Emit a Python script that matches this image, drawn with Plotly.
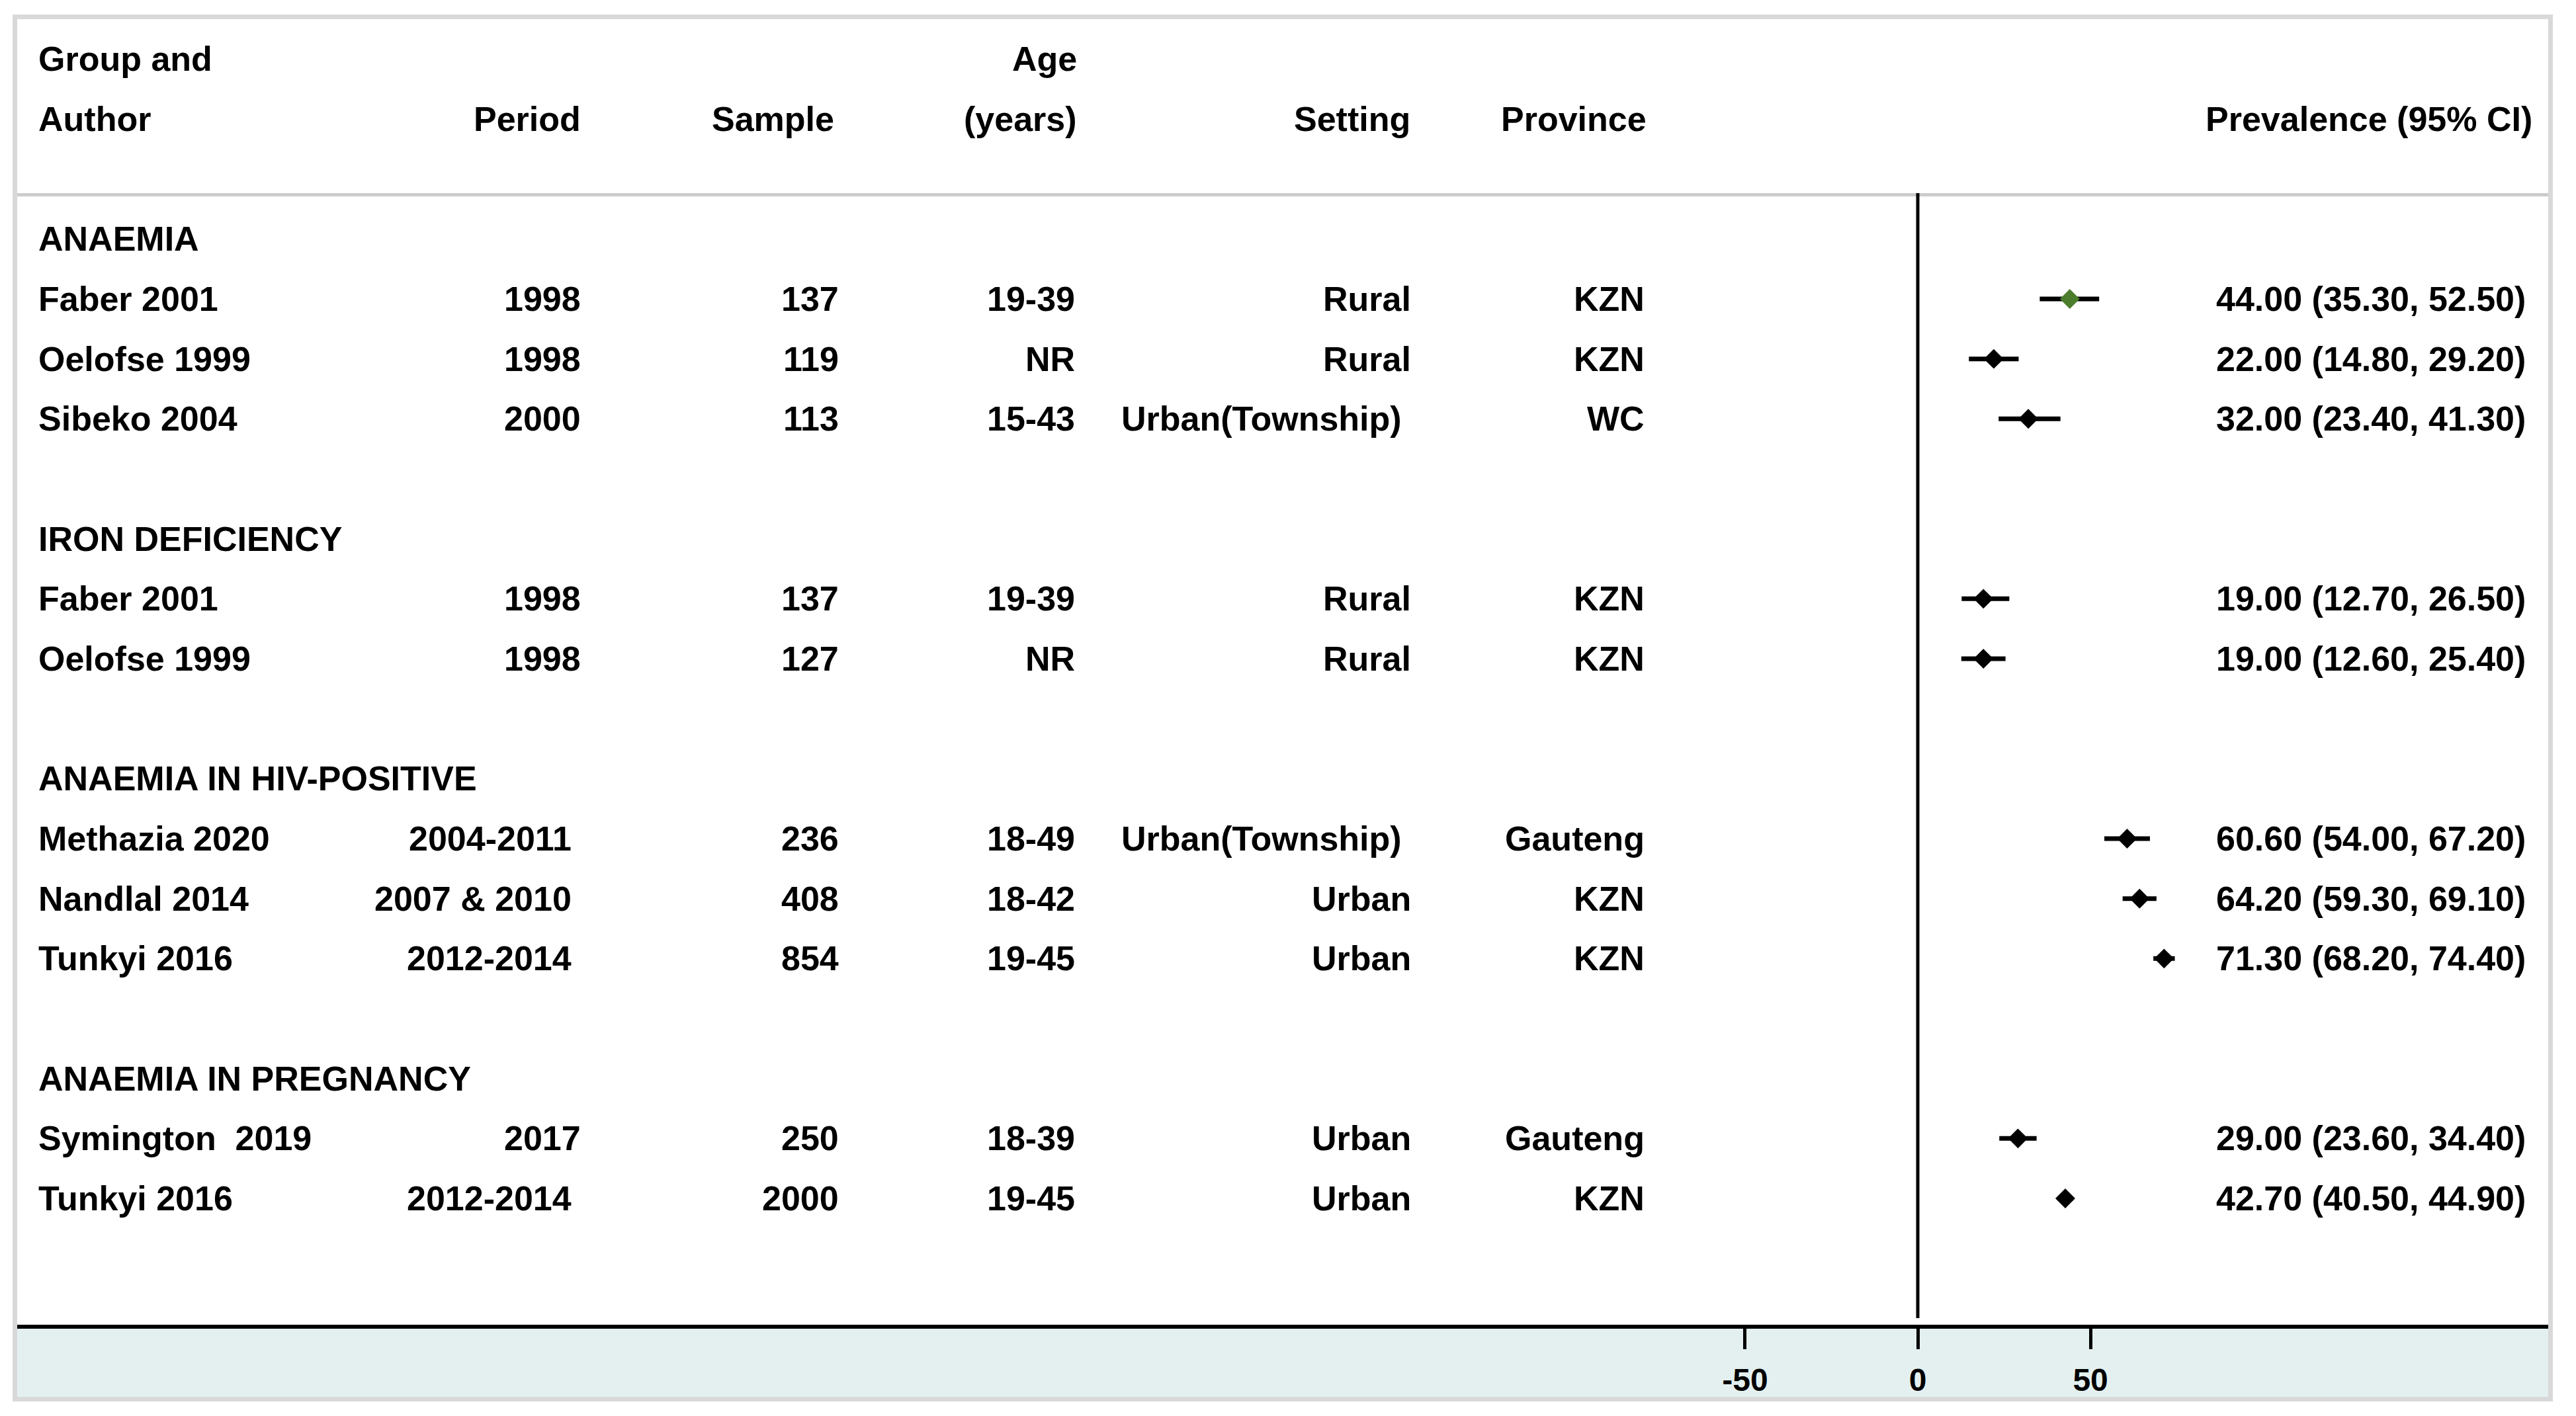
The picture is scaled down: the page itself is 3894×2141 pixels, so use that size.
import plotly.graph_objects as go

# ---------------- data ----------------
groups = ["ANAEMIA", "IRON DEFICIENCY", "ANAEMIA IN HIV-POSITIVE", "ANAEMIA IN PREGNANCY"]
study_group = [0, 0, 0, 1, 1, 2, 2, 2, 3, 3]
authors = ["Faber 2001", "Oelofse 1999", "Sibeko 2004",
           "Faber 2001", "Oelofse 1999",
           "Methazia 2020", "Nandlal 2014", "Tunkyi 2016",
           "Symington\u00a0\u00a02019", "Tunkyi 2016"]
periods = ["1998", "1998", "2000",
           "1998", "1998",
           "2004-2011\u00a0", "2007 & 2010\u00a0", "2012-2014\u00a0",
           "2017", "2012-2014\u00a0"]
samples = ["137", "119", "113", "137", "127", "236", "408", "854", "250", "2000"]
ages = ["19-39", "NR", "15-43", "19-39", "NR", "18-49", "18-42", "19-45", "18-39", "19-45"]
settings = ["Rural", "Rural", "Urban(Township)\u00a0", "Rural", "Rural",
            "Urban(Township)\u00a0", "Urban", "Urban", "Urban", "Urban"]
provinces = ["KZN", "KZN", "WC", "KZN", "KZN", "Gauteng", "KZN", "KZN", "Gauteng", "KZN"]
est = [44.00, 22.00, 32.00, 19.00, 19.00, 60.60, 64.20, 71.30, 29.00, 42.70]
lo = [35.30, 14.80, 23.40, 12.70, 12.60, 54.00, 59.30, 68.20, 23.60, 40.50]
hi = [52.50, 29.20, 41.30, 26.50, 25.40, 67.20, 69.10, 74.40, 34.40, 44.90]
x_ticks = [-50, 0, 50]
null_value = 0

# ---------------- layout constants ----------------
W, H = 3894, 2141
ROW0_PX, ROW_PX = 89.3, 90.67          # pixel centre of row 0 and row pitch
PLOT_L, PLOT_R, PLOT_T, PLOT_B = 26, 3852, 29, 2003
ZERO_PX, PX_PER_UNIT = 2899, 5.222
HIGHLIGHT = 0
GREEN = "#4b7d2c"
FONT = dict(family="Liberation Sans, Arial, sans-serif", size=52, color="black", weight="bold")


def px_x(p):
    return p / W


def px_y(p):
    return 1 - p / H


def k_of_px(p):
    return (p - ROW0_PX) / ROW_PX


# assign rows
group_rows = {}
study_rows = []
k = 3
for g in range(len(groups)):
    group_rows[g] = k
    k += 1
    for i, sg in enumerate(study_group):
        if sg == g:
            study_rows.append((i, k))
            k += 1
    k += 1
row_of = dict(study_rows)
rows = [row_of[i] for i in range(len(authors))]

fig = go.Figure()

norm_idx = [i for i in range(len(est)) if i != HIGHLIGHT]
for idx, color in ((norm_idx, "black"), ([HIGHLIGHT], GREEN)):
    fig.add_trace(go.Scatter(
        x=[est[i] for i in idx],
        y=[rows[i] for i in idx],
        mode="markers",
        marker=dict(symbol="diamond", size=23, color=color, line=dict(width=0)),
        error_x=dict(type="data", symmetric=False,
                     array=[hi[i] - est[i] for i in idx],
                     arrayminus=[est[i] - lo[i] for i in idx],
                     color="black", thickness=7, width=0),
        showlegend=False, hoverinfo="skip",
    ))

ann = []


def add_text(text, xpx, row, anchor):
    ann.append(dict(text=text, x=px_x(xpx), xref="paper", y=row, yref="y",
                    xanchor=anchor, yanchor="middle", showarrow=False, font=FONT))


# headers
add_text("Group and", 56, 0, "left")
add_text("Author", 56, 1, "left")
add_text("Period", 880, 1, "right")
add_text("Sample", 1263, 1, "right")
add_text("Age", 1630, 0, "right")
add_text("(years)", 1630, 1, "right")
add_text("Setting", 2134, 1, "right")
add_text("Province", 2491, 1, "right")
add_text("Prevalence (95% CI)", 3830, 1, "right")

for g, r in group_rows.items():
    add_text(groups[g], 56, r, "left")

for i in range(len(authors)):
    r = rows[i]
    add_text(authors[i], 56, r, "left")
    add_text(periods[i], 880, r, "right")
    add_text(samples[i], 1270, r, "right")
    add_text(ages[i], 1627, r, "right")
    add_text(settings[i], 2135, r, "right")
    add_text(provinces[i], 2488, r, "right")
    add_text(f"{est[i]:.2f} ({lo[i]:.2f}, {hi[i]:.2f})", 3820, r, "right")

shapes = [
    # light blue band under the axis
    dict(type="rect", xref="paper", yref="paper", layer="below",
         x0=px_x(PLOT_L), x1=px_x(PLOT_R), y0=px_y(2112), y1=px_y(2006),
         fillcolor="#e4f0f0", line=dict(width=0)),
    # outer frame
    dict(type="rect", xref="paper", yref="paper",
         x0=px_x(22.5), x1=px_x(3855.5), y0=px_y(2115.5), y1=px_y(25.5),
         line=dict(color="#d9d9d9", width=7), fillcolor="rgba(0,0,0,0)"),
    # header separator
    dict(type="line", xref="paper", yref="paper",
         x0=px_x(PLOT_L), x1=px_x(PLOT_R), y0=px_y(294.5), y1=px_y(294.5),
         line=dict(color="#cccccc", width=5)),
    # null line
    dict(type="line", xref="x", yref="paper",
         x0=null_value, x1=null_value, y0=px_y(1993), y1=px_y(292),
         line=dict(color="black", width=5)),
]

fig.update_layout(
    width=W, height=H,
    margin=dict(l=0, r=0, t=0, b=0),
    paper_bgcolor="white", plot_bgcolor="rgba(0,0,0,0)",
    annotations=ann, shapes=shapes,
    xaxis=dict(domain=[px_x(PLOT_L), px_x(PLOT_R)],
               range=[(PLOT_L - ZERO_PX) / PX_PER_UNIT, (PLOT_R - ZERO_PX) / PX_PER_UNIT],
               showgrid=False, zeroline=False, showline=True, linecolor="black", linewidth=6,
               ticks="outside", ticklen=31, tickwidth=5, tickcolor="black",
               ticklabelstandoff=5,
               tickvals=x_ticks, ticktext=[str(v) for v in x_ticks],
               tickfont=dict(family="Liberation Sans, Arial, sans-serif", size=48,
                             color="black", weight="bold"),
               fixedrange=True),
    yaxis=dict(domain=[px_y(PLOT_B), px_y(PLOT_T)],
               range=[k_of_px(PLOT_B), k_of_px(PLOT_T)],
               showgrid=False, zeroline=False, showline=False, showticklabels=False,
               ticks="", fixedrange=True),
)

fig.write_html("out.html",
               config={"displayModeBar": False},
               post_script="document.body.style.margin='0';document.body.style.overflow='hidden';")
